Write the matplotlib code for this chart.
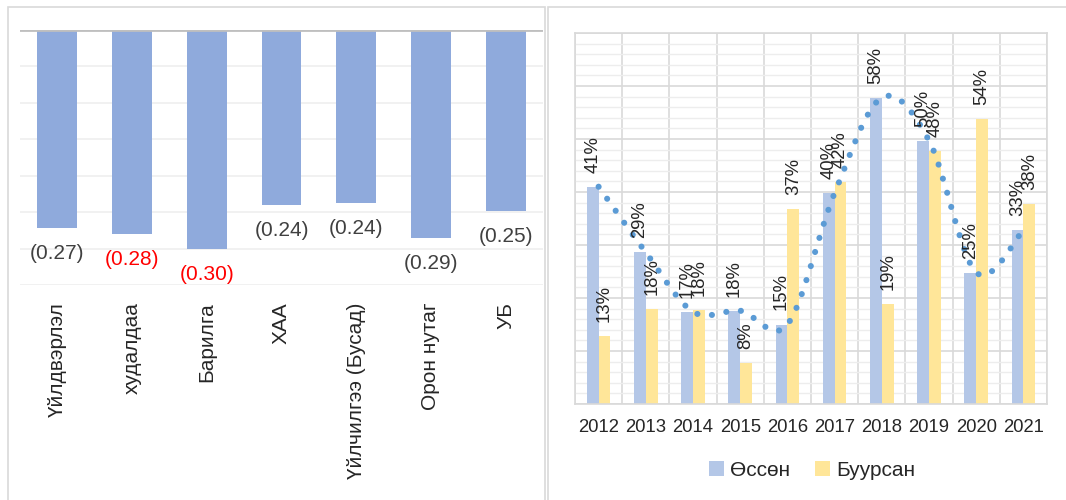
import numpy as np
import matplotlib
matplotlib.use("Agg")
import matplotlib.pyplot as plt
from matplotlib.path import Path
from matplotlib.patches import PathPatch, Rectangle

plt.rcParams["font.family"] = ["Liberation Sans", "DejaVu Sans"]

# --- left chart data -------------------------------------------------------
sectors = ["Үйлдвэрлэл", "худалдаа", "Барилга", "ХАА",
           "Үйлчилгээ (Бусад)", "Орон нутаг", "УБ"]
sector_vals = [-0.272, -0.280, -0.300, -0.240, -0.238, -0.286, -0.249]
highlight = ["худалдаа", "Барилга"]

# --- right chart data ------------------------------------------------------
years = ["2012", "2013", "2014", "2015", "2016",
         "2017", "2018", "2019", "2020", "2021"]
growth = [41.0, 28.6, 17.4, 17.6, 15.0, 39.8, 57.8, 49.7, 24.8, 32.8]
decline = [12.8, 17.9, 17.8, 7.8, 36.8, 41.8, 18.9, 47.7, 53.8, 37.8]

W, H = 1066, 500
fig = plt.figure(figsize=(W / 100, H / 100), dpi=100)


def px_axes(x0, y0, x1, y1):
    return fig.add_axes([x0 / W, 1 - y1 / H, (x1 - x0) / W, (y1 - y0) / H])


# panel frames
for x0, x1 in [(8, 545), (548, 1080)]:
    fig.patches.append(Rectangle((x0 / W, -0.1), (x1 - x0) / W, 1.1 - 7 / H,
                                 transform=fig.transFigure, fill=False,
                                 edgecolor="#D9D9D9", lw=1.2))

TXT = "#262626"

# =============================================================================
# Left: sector bars
# =============================================================================
ax1 = px_axes(20, 30, 543, 285)
xs = np.arange(len(sectors))
ax1.bar(xs, sector_vals, width=0.535, color="#8FAADC", zorder=2)
ax1.set_xlim(-0.5, len(sectors) - 0.5)
ax1.set_ylim(-0.35, 0)
ax1.set_yticks(np.arange(-0.35, 0.001, 0.05))
ax1.grid(axis="y", color="#EFEFEF", lw=1.2, zorder=0)
ax1.axhline(0, color="#BFBFBF", lw=2.0, zorder=3)
for s in ax1.spines.values():
    s.set_visible(False)
ax1.tick_params(left=False, labelleft=False, bottom=False, axis="both", pad=9)
ax1.set_xticks(xs)
ax1.set_xticklabels(sectors, rotation=90, fontsize=15, color=TXT, va="top")

for xi, (name, v) in enumerate(zip(sectors, sector_vals)):
    col = "#FF0000" if name in highlight else "#404040"
    ax1.annotate(f"({-v:.2f})", (xi, v), xytext=(0, -16),
                 textcoords="offset pixels", ha="center", va="top",
                 fontsize=15, color=col, annotation_clip=False)

# =============================================================================
# Right: growth / decline by year
# =============================================================================
ax2 = px_axes(575, 33, 1047, 404)
x2 = np.arange(len(years))
bw = 0.25
ax2.bar(x2 - bw / 2, growth, bw, color="#B4C7E7", label="Өссөн", zorder=2)
ax2.bar(x2 + bw / 2, decline, bw, color="#FFE699", label="Буурсан", zorder=2)
ax2.set_xlim(-0.5, len(years) - 0.5)
ax2.set_ylim(0, 70)
ax2.set_yticks(np.arange(0, 71, 10))
ax2.set_yticks(np.arange(0, 71, 2), minor=True)
ax2.set_xticks(x2)
ax2.set_xticks(np.arange(-0.5, len(years), 1), minor=True)
ax2.set_xticklabels(years, fontsize=13.3, color=TXT)
ax2.grid(which="major", axis="y", color="#D9D9D9", lw=1.2, zorder=0)
ax2.grid(which="minor", axis="y", color="#EDEDED", lw=1.0, zorder=0)
ax2.grid(which="minor", axis="x", color="#D9D9D9", lw=1.2, zorder=0)
ax2.set_axisbelow(True)
for s in ax2.spines.values():
    s.set_color("#D9D9D9")
    s.set_linewidth(1.2)
ax2.tick_params(which="both", length=0, labelleft=False)
ax2.tick_params(axis="x", pad=11)

# smoothed dotted line through the growth series (Bezier, like Excel)
P = np.column_stack([x2, growth]).astype(float)
n = len(P)
verts = [P[0]]
for i in range(n - 1):
    p0, p1 = P[max(i - 1, 0)], P[i]
    p2, p3 = P[i + 1], P[min(i + 2, n - 1)]
    verts += [p1 + (p2 - p0) / 6, p2 - (p3 - p1) / 6, p2]
codes = [Path.MOVETO] + [Path.CURVE4] * (3 * (n - 1))
ax2.add_patch(PathPatch(Path(verts, codes), fill=False, edgecolor="#5B9BD5",
                        lw=4.4, linestyle=(0, (0.01, 2.4)),
                        capstyle="round", zorder=4))

for xi, (g, d) in enumerate(zip(growth, decline)):
    for off, v in [(-bw / 2, g), (bw / 2, d)]:
        ax2.annotate(f"{v:.0f}%", (xi + off, v), xytext=(0, 14),
                     textcoords="offset pixels", rotation=90,
                     ha="center", va="bottom", fontsize=13.3, color=TXT,
                     zorder=5)

fig.legend(loc="center", bbox_to_anchor=(812 / W, 1 - 470 / H), ncol=2,
           frameon=False, fontsize=15, handlelength=0.7, handleheight=0.7,
           handletextpad=0.3, columnspacing=1.2, labelcolor=TXT)

fig.savefig("out.png", dpi=100)
